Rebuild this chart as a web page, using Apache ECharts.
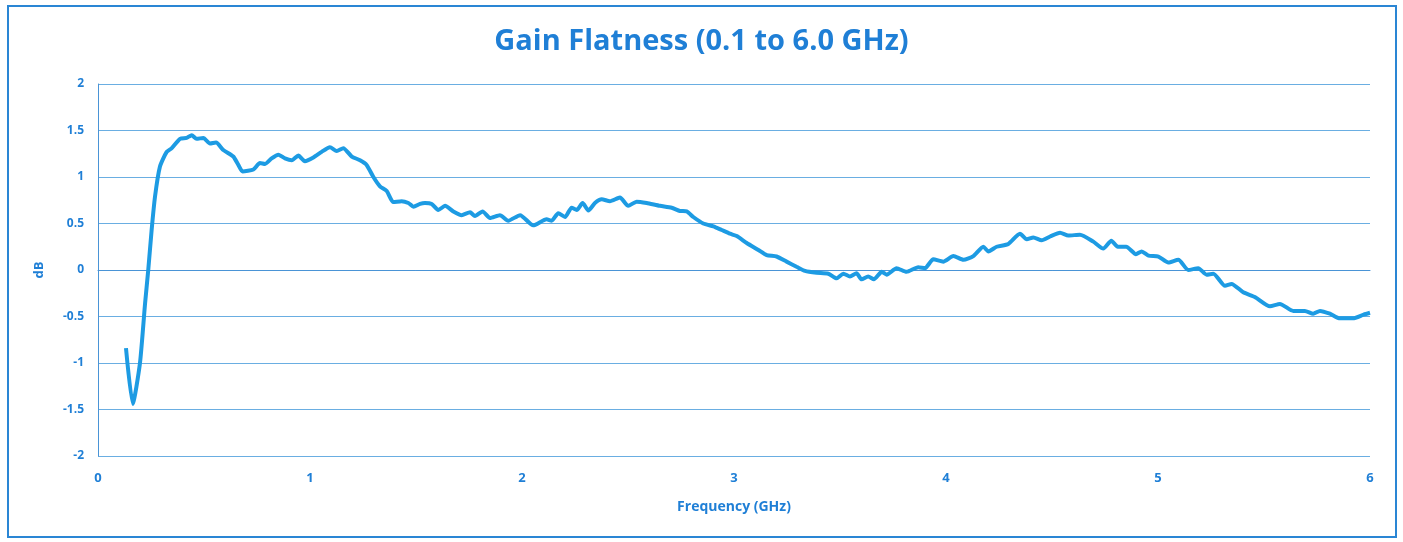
<!DOCTYPE html>
<html>
<head>
<meta charset="utf-8">
<script src="https://cdn.jsdelivr.net/npm/echarts@6/dist/echarts.min.js"></script>
<style>
html,body{margin:0;padding:0;background:#fff;}
#chart{width:1403px;height:542px;}
</style>
</head>
<body>
<div id="chart"></div>
<script>
const titleText = 'Gain Flatness (0.1 to 6.0 GHz)';
const xAxisName = 'Frequency (GHz)';
const yAxisName = 'dB';
const freqGHz = [0.132,0.164,0.198,0.222,0.237,0.253,0.269,0.292,0.324,0.348,0.387,0.418,0.442,0.465,0.497,0.528,0.557,0.591,0.638,0.662,0.682,0.733,0.764,0.788,0.819,0.851,0.882,0.914,0.945,0.976,1.016,1.055,1.094,1.126,1.157,1.197,1.236,1.267,1.299,1.33,1.362,1.393,1.432,1.464,1.488,1.519,1.542,1.574,1.605,1.637,1.676,1.715,1.755,1.778,1.814,1.849,1.896,1.935,1.991,2.053,2.116,2.14,2.171,2.203,2.234,2.258,2.286,2.313,2.344,2.376,2.415,2.462,2.501,2.541,2.588,2.651,2.706,2.745,2.777,2.808,2.855,2.903,2.942,2.981,3.013,3.06,3.115,3.154,3.201,3.248,3.295,3.335,3.39,3.445,3.484,3.516,3.547,3.578,3.602,3.633,3.66,3.697,3.72,3.767,3.814,3.869,3.901,3.94,3.987,4.035,4.082,4.129,4.176,4.2,4.239,4.294,4.349,4.381,4.412,4.451,4.491,4.538,4.577,4.632,4.695,4.742,4.78,4.81,4.85,4.896,4.923,4.955,5.002,5.049,5.096,5.143,5.19,5.229,5.261,5.316,5.347,5.402,5.457,5.528,5.575,5.638,5.693,5.732,5.764,5.811,5.858,5.92,5.97,6.0];
const gainDb = [-0.84,-1.44,-1.0,-0.36,0,0.43,0.79,1.11,1.27,1.31,1.41,1.42,1.45,1.41,1.42,1.36,1.37,1.29,1.22,1.13,1.06,1.08,1.15,1.14,1.20,1.24,1.20,1.18,1.23,1.17,1.21,1.27,1.32,1.28,1.31,1.22,1.18,1.13,1.00,0.90,0.85,0.73,0.74,0.72,0.68,0.71,0.72,0.71,0.645,0.69,0.63,0.59,0.62,0.58,0.63,0.56,0.59,0.53,0.59,0.48,0.545,0.53,0.61,0.57,0.67,0.645,0.72,0.64,0.72,0.76,0.74,0.78,0.69,0.735,0.72,0.69,0.67,0.635,0.63,0.57,0.50,0.47,0.43,0.39,0.365,0.29,0.215,0.16,0.145,0.09,0.035,-0.01,-0.03,-0.04,-0.09,-0.04,-0.07,-0.036,-0.10,-0.07,-0.10,-0.02,-0.05,0.02,-0.02,0.03,0.02,0.115,0.09,0.15,0.11,0.15,0.25,0.20,0.25,0.28,0.39,0.33,0.35,0.32,0.36,0.40,0.37,0.38,0.305,0.23,0.315,0.25,0.25,0.17,0.20,0.155,0.145,0.08,0.11,0.0,0.02,-0.05,-0.04,-0.17,-0.15,-0.24,-0.29,-0.39,-0.365,-0.44,-0.44,-0.47,-0.44,-0.47,-0.52,-0.52,-0.48,-0.46];

const textColor = '#1f7fd6';
const fontFam = '"Open Sans", "Liberation Sans", sans-serif';

const chart = echarts.init(document.getElementById('chart'), null, {renderer:'canvas'});
chart.setOption({
  backgroundColor: '#ffffff',
  animation: false,
  graphic: [{
    type: 'rect',
    shape: {x: 8, y: 6, width: 1388, height: 531},
    style: {fill: 'none', stroke: '#2a86d4', lineWidth: 2},
    silent: true
  }],
  title: {
    text: titleText,
    left: 'center',
    top: 22,
    textStyle: {color: textColor, fontFamily: fontFam, fontWeight: 'bold', fontSize: 29}
  },
  grid: {left: 98, right: 33, top: 84, bottom: 86},
  xAxis: {
    type: 'value',
    min: 0, max: 6, interval: 1,
    name: xAxisName,
    nameLocation: 'middle',
    nameGap: 44,
    nameTextStyle: {color: textColor, fontFamily: fontFam, fontWeight: 'bold', fontSize: 14},
    axisLine: {show: true, lineStyle: {color: '#4a94d6', width: 1}},
    axisTick: {show: false},
    axisLabel: {color: textColor, fontFamily: fontFam, fontWeight: 'bold', fontSize: 13, margin: 16},
    splitLine: {show: false}
  },
  yAxis: {
    type: 'value',
    min: -2, max: 2, interval: 0.5,
    name: yAxisName,
    nameLocation: 'middle',
    nameGap: 52,
    nameRotate: 90,
    nameTextStyle: {color: textColor, fontFamily: fontFam, fontWeight: 'bold', fontSize: 13},
    axisLine: {show: true, lineStyle: {color: '#4a94d6', width: 1}},
    axisTick: {show: false},
    axisLabel: {color: textColor, fontFamily: fontFam, fontWeight: 'bold', fontSize: 12, margin: 14},
    splitLine: {show: true, lineStyle: {color: '#6aaee2', width: 1}}
  },
  series: [{
    type: 'line',
    data: freqGHz.map((f, i) => [f, gainDb[i]]),
    showSymbol: false,
    smooth: 0.2,
    lineStyle: {color: '#1d9be3', width: 4},
    itemStyle: {color: '#1d9be3'}
  }]
});
</script>
</body>
</html>
